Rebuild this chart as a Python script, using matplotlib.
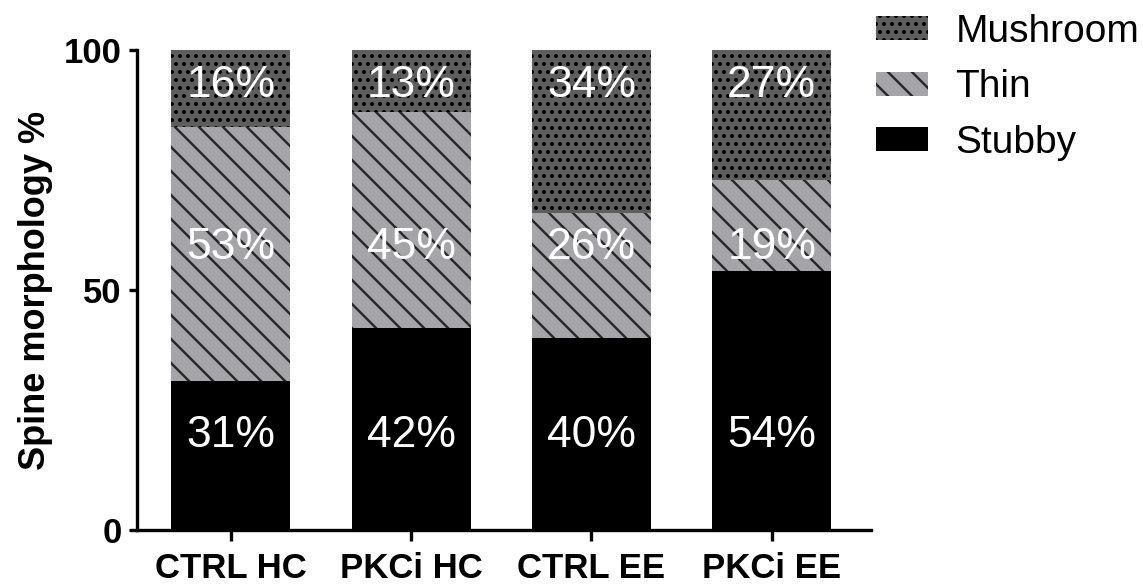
import numpy as np
import matplotlib
matplotlib.use('Agg')
import matplotlib.pyplot as plt

# draw at 144 dpi so the hatch cell matches the original texture;
# point sizes are scaled so pixel sizes stay as at 100 dpi
DPI = 144
S = 100 / DPI

plt.rcParams['font.family'] = ['Liberation Sans', 'DejaVu Sans']
plt.rcParams['hatch.linewidth'] = 1.7 * S

groups = ['CTRL HC', 'PKCi HC', 'CTRL EE', 'PKCi EE']
stubby = [31, 42, 40, 54]
thin = [53, 45, 26, 19]
mushroom = [16, 13, 34, 27]

fig = plt.figure(figsize=(1143 / DPI, 584 / DPI), dpi=DPI)
ax = fig.add_axes([137 / 1143, 54 / 584, 734 / 1143, 480 / 584])

x = np.arange(len(groups))
w = 0.66
b1 = ax.bar(x, stubby, w, color='black', linewidth=0, label='Stubby')
b2 = ax.bar(x, thin, w, bottom=stubby, color='#a4a4a9', edgecolor='#262626',
            hatch='\\\\', linewidth=0, label='Thin')
bottom2 = np.array(stubby) + np.array(thin)
b3 = ax.bar(x, mushroom, w, bottom=bottom2, color='#5e5e5e', edgecolor='black',
            hatch='...', linewidth=0, label='Mushroom')

# percentage labels (fixed heights, like the original)
for i in range(len(groups)):
    ax.text(x[i], 17.3, f'{stubby[i]}%', color='white', fontsize=32 * S,
            ha='center', va='baseline')
    ax.text(x[i], 56.5, f'{thin[i]}%', color='white', fontsize=32 * S,
            ha='center', va='baseline')
    ax.text(x[i], 90.2, f'{mushroom[i]}%', color='white', fontsize=32 * S,
            ha='center', va='baseline')

ax.set_xlim(-0.52, 3.55)
ax.set_ylim(0, 100)
ax.set_yticks([0, 50, 100])
ax.set_xticks(x)
ax.set_xticklabels(groups, fontsize=25 * S, fontweight='bold')
for lab in ax.get_yticklabels():
    lab.set_fontsize(25 * S)
    lab.set_fontweight('bold')
ax.set_ylabel('Spine morphology %', fontsize=26 * S, fontweight='bold',
              labelpad=8 * S)

ax.spines['top'].set_visible(False)
ax.spines['right'].set_visible(False)
ax.spines['left'].set_linewidth(2.4 * S)
ax.spines['bottom'].set_linewidth(2.4 * S)
ax.tick_params(axis='both', direction='out', width=2.4 * S, length=6 * S, pad=5 * S)
ax.tick_params(axis='x', length=8 * S, pad=8 * S)

leg = ax.legend(handles=[b3, b2, b1], labels=['Mushroom', 'Thin', 'Stubby'],
                loc='upper left', bbox_to_anchor=(876 / 1143, 1 - 14 / 584),
                bbox_transform=fig.transFigure, frameon=False, fontsize=28 * S,
                borderpad=0, borderaxespad=0, handlelength=1.34,
                handleheight=0.57, handletextpad=0.7, labelspacing=0.5)

fig.savefig('out.png', dpi=DPI)
